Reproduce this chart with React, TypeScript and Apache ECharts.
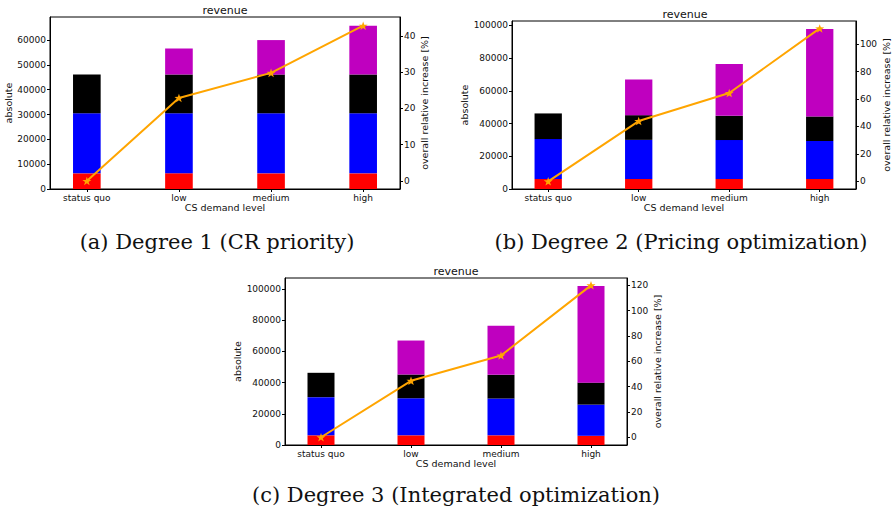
import React, { useEffect, useRef } from 'react';
import * as echarts from 'echarts';

const CATEGORIES = ['status quo', 'low', 'medium', 'high'];

// (a) Degree 1 (CR priority) – stacked segment heights
const A_RED = [6300, 6300, 6300, 6300];
const A_BLUE = [24200, 24200, 24200, 24200];
const A_BLACK = [15600, 15600, 15600, 15600];
const A_MAGENTA = [0, 10500, 13900, 19700];
const A_INCREASE = [0, 22.9, 29.8, 42.8];
const A_LEFT_TICKS = [0, 10000, 20000, 30000, 40000, 50000, 60000];
const A_RIGHT_TICKS = [0, 10, 20, 30, 40];

// (b) Degree 2 (Pricing optimization)
const B_RED = [6100, 6100, 6100, 6100];
const B_BLUE = [24400, 23900, 23800, 23200];
const B_BLACK = [15650, 15100, 14800, 15000];
const B_MAGENTA = [0, 21800, 31700, 53450];
const B_INCREASE = [0, 43.9, 64.3, 111.4];
const B_LEFT_TICKS = [0, 20000, 40000, 60000, 80000, 100000];
const B_RIGHT_TICKS = [0, 20, 40, 60, 80, 100];

// (c) Degree 3 (Integrated optimization)
const C_RED = [6200, 6200, 6200, 5900];
const C_BLUE = [24500, 23800, 23600, 20000];
const C_BLACK = [15600, 15200, 15200, 14100];
const C_MAGENTA = [0, 21800, 31400, 61900];
const C_INCREASE = [0, 44.6, 64.6, 120.0];
const C_LEFT_TICKS = [0, 20000, 40000, 60000, 80000, 100000];
const C_RIGHT_TICKS = [0, 20, 40, 60, 80, 100, 120];

const CAPTIONS = [
  '(a) Degree 1 (CR priority)',
  '(b) Degree 2 (Pricing optimization)',
  '(c) Degree 3 (Integrated optimization)',
];

const STAR =
  'path://M0,-10L2.35,-3.24L9.51,-3.09L3.8,1.24L5.88,8.09L0,4L-5.88,8.09L-3.8,1.24L-9.51,-3.09L-2.35,-3.24Z';

const SANS = 'DejaVu Sans';
const SERIF = 'DejaVu Serif';

const panels = [
  {
    grid: { left: 50, top: 17, width: 350, height: 172 },
    leftMax: 69300, rightMin: -2.2, rightMax: 45.2,
    leftTicks: A_LEFT_TICKS, rightTicks: A_RIGHT_TICKS,
    red: A_RED, blue: A_BLUE, black: A_BLACK, magenta: A_MAGENTA, inc: A_INCREASE,
    yGap: 34, rGap: 15, caption: { x: 217, y: 242 },
  },
  {
    grid: { left: 512, top: 21, width: 346, height: 168 },
    leftMax: 102600, rightMin: -5.6, rightMax: 116.8,
    leftTicks: B_LEFT_TICKS, rightTicks: B_RIGHT_TICKS,
    red: B_RED, blue: B_BLUE, black: B_BLACK, magenta: B_MAGENTA, inc: B_INCREASE,
    yGap: 40, rGap: 21, caption: { x: 681, y: 242 },
  },
  {
    grid: { left: 285, top: 278, width: 342, height: 167 },
    leftMax: 107100, rightMin: -6.1, rightMax: 125.8,
    leftTicks: C_LEFT_TICKS, rightTicks: C_RIGHT_TICKS,
    red: C_RED, blue: C_BLUE, black: C_BLACK, magenta: C_MAGENTA, inc: C_INCREASE,
    yGap: 38, rGap: 20, caption: { x: 456, y: 495 },
  },
];

function buildOption() {
  const grid: any[] = [];
  const xAxis: any[] = [];
  const yAxis: any[] = [];
  const series: any[] = [];
  const graphic: any[] = [];

  const labelStyle = { fontSize: 9, color: '#111', fontFamily: SANS };
  const nameStyle = { fontSize: 9.5, color: '#111', fontFamily: SANS };

  panels.forEach((p, i) => {
    grid.push({ ...p.grid, show: true, borderColor: '#000', borderWidth: 1, backgroundColor: 'transparent' });
    const catIdx = CATEGORIES.map((_, k) => k);
    xAxis.push({
      gridIndex: i, type: 'value', min: -0.4, max: 3.4,
      name: 'CS demand level', nameLocation: 'middle', nameGap: 13, nameTextStyle: nameStyle,
      axisLine: { show: true, onZero: false, lineStyle: { color: '#000', width: 1 } },
      axisTick: { show: true, length: 3, customValues: catIdx, lineStyle: { color: '#000' } },
      axisLabel: { ...labelStyle, margin: 4, customValues: catIdx, formatter: (v: number) => CATEGORIES[Math.round(v)] ?? '' },
      splitLine: { show: false },
    });
    yAxis.push({
      gridIndex: i, type: 'value', position: 'left', min: 0, max: p.leftMax,
      name: 'absolute', nameLocation: 'middle', nameGap: p.yGap, nameRotate: 90, nameTextStyle: nameStyle,
      axisLine: { show: true, onZero: false, lineStyle: { color: '#000', width: 1 } },
      axisTick: { show: true, length: 3, customValues: p.leftTicks, lineStyle: { color: '#000' } },
      axisLabel: { ...labelStyle, margin: 4, customValues: p.leftTicks, formatter: (v: number) => String(Math.round(v)) },
      splitLine: { show: false },
    });
    yAxis.push({
      gridIndex: i, type: 'value', position: 'right', min: p.rightMin, max: p.rightMax,
      name: 'overall relative increase [%]', nameLocation: 'middle', nameGap: p.rGap, nameRotate: 90, nameTextStyle: nameStyle,
      axisLine: { show: true, onZero: false, lineStyle: { color: '#000', width: 1 } },
      axisTick: { show: true, length: 3, customValues: p.rightTicks, lineStyle: { color: '#000' } },
      axisLabel: { ...labelStyle, margin: 4, customValues: p.rightTicks, formatter: (v: number) => String(Math.round(v)) },
      splitLine: { show: false },
    });
    const barWidth = (p.grid.width / 3.8) * 0.3;
    const segs: [number[], string][] = [
      [p.red, '#ff0000'],
      [p.blue, '#0000ff'],
      [p.black, '#000000'],
      [p.magenta, '#bf00bf'],
    ];
    segs.forEach(([vals, color]) => {
      series.push({
        type: 'bar', xAxisIndex: i, yAxisIndex: 2 * i, stack: 'p' + i, barWidth,
        dimensions: ['val', 'cat'],
        encode: { x: 'cat', y: 'val' },
        data: vals.map((v, k) => [v, k]),
        itemStyle: { color },
        silent: true,
      });
    });
    series.push({
      type: 'line', xAxisIndex: i, yAxisIndex: 2 * i + 1, z: 5,
      data: p.inc.map((v, k) => [k, v]),
      symbol: STAR, symbolSize: 9, symbolKeepAspect: true,
      lineStyle: { color: '#ffa500', width: 2 },
      itemStyle: { color: '#ffa500' },
      silent: true,
    });
    graphic.push({
      type: 'text', x: p.grid.left + p.grid.width / 2, y: p.grid.top - 7,
      style: { text: 'revenue', align: 'center', verticalAlign: 'middle', fontSize: 11, fontFamily: SANS, fill: '#111' },
    });
    graphic.push({
      type: 'text', x: p.caption.x, y: p.caption.y,
      style: { text: CAPTIONS[i], align: 'center', verticalAlign: 'middle', fontSize: 21, fontFamily: SERIF, fill: '#111' },
    });
  });

  return { animation: false, backgroundColor: '#fff', grid, xAxis, yAxis, series, graphic };
}

export default function App() {
  const ref = useRef<HTMLDivElement>(null);
  useEffect(() => {
    document.body.style.margin = '0';
    if (!ref.current) return;
    const chart = echarts.init(ref.current, null, { renderer: 'svg' });
    chart.setOption(buildOption() as any);
    return () => chart.dispose();
  }, []);
  return <div ref={ref} style={{ width: 892, height: 515 }} />;
}
